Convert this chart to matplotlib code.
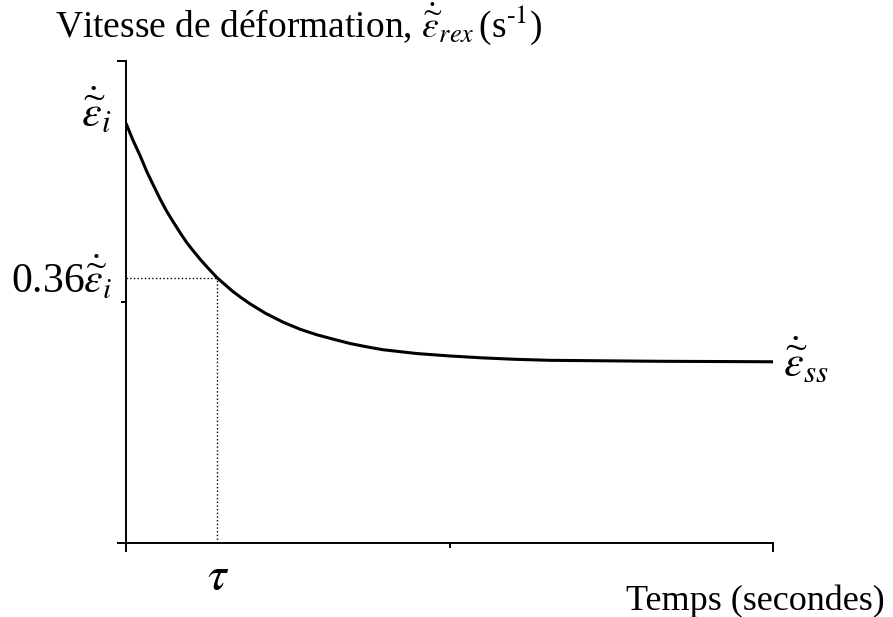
import matplotlib.pyplot as plt
from matplotlib.ticker import FixedLocator, NullFormatter

plt.rcParams['font.family'] = ['Liberation Serif', 'DejaVu Serif']
plt.rcParams['mathtext.fontset'] = 'stix'

# Courbe de vitesse de déformation (unités arbitraires)
temps = [0.0, 0.10, 0.22, 0.32, 0.42, 0.53, 0.63, 0.74, 0.84, 0.94,
         1.04, 1.15, 1.25, 1.41, 1.53, 1.65, 1.78, 1.92, 2.15, 2.43,
         2.70, 2.95, 3.20, 3.46, 3.72, 3.97, 4.50, 5.01, 5.52, 6.04,
         6.55, 7.40, 8.25, 10.0]
vitesse = [0.871, 0.838, 0.803, 0.771, 0.743, 0.713, 0.688, 0.664, 0.643, 0.623,
           0.606, 0.588, 0.573, 0.550, 0.536, 0.522, 0.509, 0.496, 0.477, 0.458,
           0.443, 0.432, 0.423, 0.414, 0.407, 0.401, 0.393, 0.388, 0.384, 0.381,
           0.379, 0.378, 0.377, 0.376]

tau = 1.41          # constante de temps
niveau_tau = 0.550  # vitesse atteinte à t = tau

fig = plt.figure(figsize=(8.93, 6.17), dpi=100)
ax = fig.add_axes([126 / 893, 74 / 617, 647 / 893, 482 / 617])

ax.plot(temps, vitesse, color='black', linewidth=2.2,
        solid_capstyle='butt', solid_joinstyle='round')

# lignes pointillées de repérage de tau
ax.plot([0, tau], [niveau_tau, niveau_tau], color='black', linestyle=':', linewidth=1.0)
ax.plot([tau, tau], [0, niveau_tau], color='black', linestyle=':', linewidth=1.0)

ax.set_xlim(0, 10)
ax.set_ylim(0, 1)
for s in ['top', 'right']:
    ax.spines[s].set_visible(False)
for s in ['left', 'bottom']:
    ax.spines[s].set_linewidth(1.4)

ax.xaxis.set_major_locator(FixedLocator([0, 10]))
ax.xaxis.set_minor_locator(FixedLocator([5]))
ax.yaxis.set_major_locator(FixedLocator([0, 1]))
ax.yaxis.set_minor_locator(FixedLocator([0.5]))
ax.xaxis.set_major_formatter(NullFormatter())
ax.yaxis.set_major_formatter(NullFormatter())
ax.tick_params(which='major', direction='out', length=6.5, width=1.4)
ax.tick_params(which='minor', direction='out', length=3.5, width=1.4)

# libellés
eps = r'\dot{\widetilde{\varepsilon}}'
fig.text(55 / 893, 1 - 37 / 617,
         r'Vitesse de déformation, $' + eps + r'_{rex}\,$(s$^{\text{-1}}$)',
         fontsize=27, ha='left', va='baseline')
fig.text(96 / 893, 1 - 110 / 617, '$' + eps + '_{i}$',
         fontsize=32, ha='center', va='center')
fig.text(113 / 893, 1 - 293 / 617, r'0.36$' + eps + '_{i}$',
         fontsize=30, ha='right', va='baseline')
fig.text(783 / 893, 1 - 360 / 617, '$' + eps + '_{ss}$',
         fontsize=32, ha='left', va='center')
fig.text(218 / 893, 1 - 578 / 617, r'$\tau$',
         fontsize=34, ha='center', va='center')
fig.text(885 / 893, 1 - 610 / 617, 'Temps (secondes)',
         fontsize=26, ha='right', va='baseline')

fig.savefig('out.png', dpi=100)
